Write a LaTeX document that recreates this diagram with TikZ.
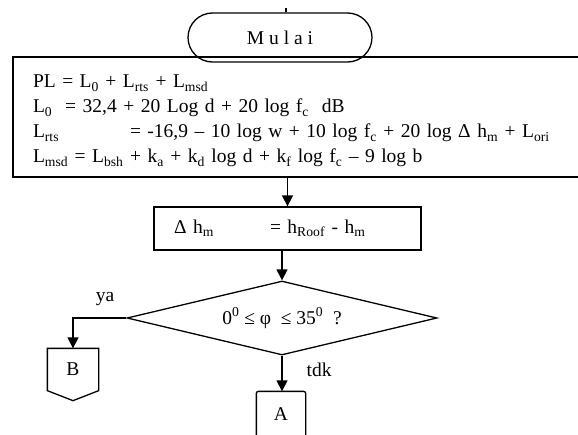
\documentclass[tikz,border=0pt]{standalone}
\usepackage{fontspec}
\setmainfont{Liberation Serif}
\usepackage{tikz}
\usetikzlibrary{shapes.geometric, shapes.misc, arrows.meta, positioning, calc}
\newcommand{\sub}[1]{\textsubscript{#1}}
\newcommand{\sups}[1]{\textsuperscript{#1}}

\begin{document}
\begin{tikzpicture}[
  x=1pt, y=-1pt,
  line width=1.3pt,
  txt/.style={font=\fontsize{19.5}{25}\selectfont},
  terminal/.style={rounded rectangle, draw, txt, minimum width=184pt, minimum height=49pt, inner sep=0pt},
  process/.style={rectangle, draw, txt, align=left},
  decision/.style={diamond, draw, txt, aspect=4.19, minimum width=310pt, minimum height=74pt, inner sep=0pt},
  offpage/.style={rectangle, txt, minimum width=50pt, minimum height=41pt, inner sep=0pt},
  lbl/.style={txt, inner sep=0pt},
  arr/.style={-{Triangle[length=11pt, width=11pt]}, line width=1.3pt},
]
  \useasboundingbox (0,0) rectangle (578,434);
  \clip (0,0) rectangle (578,434);

  \node[terminal] (start) at (280,37.5) {M u l a i};
  \node[process, minimum width=587pt, minimum height=120pt, text width=547pt, inner xsep=20pt] (calc) at (306.5,117)
    {\rule{0pt}{21pt}PL = L\sub{0} + L\sub{rts} + L\sub{msd}\\
     L\sub{0}\ \ = 32,4 + 20 Log d + 20 log f\sub{c}\ \ dB\\
     \makebox[97pt][l]{L\sub{rts}}= -16,9 -- 10 log w + 10 log f\sub{c} + 20 log Δ h\sub{m} + L\sub{ori}\\
     L\sub{msd} = L\sub{bsh} + k\sub{a} + k\sub{d} log d + k\sub{f} log f\sub{c} -- 9 log b};
  \node[process, minimum width=267pt, minimum height=43pt, text width=227pt, inner xsep=20pt] (dh) at (287.5,228.5)
    {\makebox[96pt][l]{Δ h\sub{m}}= h\sub{Roof} - h\sub{m}};
  \node[decision] (cek) at (282,318) {0\sups{0} ≤ φ\ \ ≤ 35\sups{0}\ \ ?};
  \node[offpage] (B) at (73,369.5) {B};
  \node[offpage, minimum width=48pt, minimum height=44pt] (A) at (281,414) {A};
  \coordinate (tick) at (286,8);

  % off-page connector shapes
  \draw (B.north west) -- (B.north east) -- (B.south east) -- ($(B.south)+(0,10)$) -- (B.south west) -- cycle;
  \draw[rounded corners=2pt] (A.south west) -- (A.north west) -- (A.north east) -- (A.south east);

  \draw (tick) -- (tick |- start.north);
  \draw[arr] (dh.north |- calc.south) -- (dh.north);
  \draw[arr] (cek.north |- dh.south) -- (cek.north);
  \draw[arr] (cek.west) -| node[lbl, pos=0.2, above=12pt] {ya} (B.north);
  \draw[arr] (cek.south) -- node[lbl, pos=0.4, right=24pt] {tdk} (cek.south |- A.north);
\end{tikzpicture}
\end{document}
